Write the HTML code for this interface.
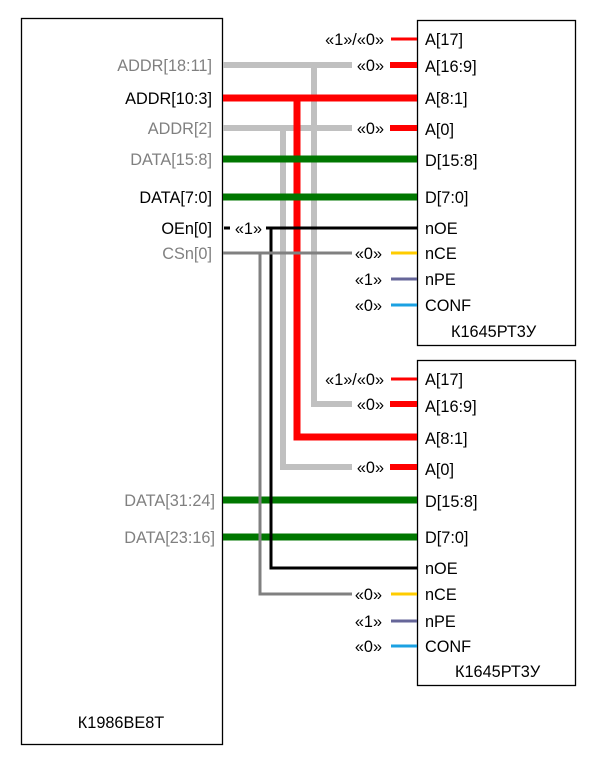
<!DOCTYPE html>
<html><head><meta charset="utf-8"><style>
body{margin:0;background:#fff}
svg{display:block;font-family:"Liberation Sans",Arial,sans-serif;font-size:16.3px}
</style></head><body>
<svg width="600" height="758" viewBox="0 0 600 758" xmlns="http://www.w3.org/2000/svg">
<rect x="21.5" y="18.5" width="201" height="726" fill="#fff" stroke="#000" stroke-width="1.3"/>
<rect x="417.5" y="20.5" width="158" height="325" fill="#fff" stroke="#000" stroke-width="1.3"/>
<rect x="417.5" y="360.5" width="158" height="325" fill="#fff" stroke="#000" stroke-width="1.3"/>

<g fill="none" stroke-linecap="butt">
<line x1="391" y1="39" x2="417" y2="39" stroke="#f00" stroke-width="3"/>
<line x1="223" y1="65" x2="352" y2="65" stroke="#c0c0c0" stroke-width="6"/>
<line x1="390" y1="65" x2="417" y2="65" stroke="#f00" stroke-width="6"/>
<line x1="390" y1="128" x2="417" y2="128" stroke="#f00" stroke-width="6"/>
<line x1="223" y1="128" x2="352" y2="128" stroke="#c0c0c0" stroke-width="6"/>
<polyline points="314,65 314,404 352,404" stroke="#c0c0c0" stroke-width="6"/>
<polyline points="283,128 283,467 352,467" stroke="#c0c0c0" stroke-width="6"/>
<line x1="223" y1="98" x2="417" y2="98" stroke="#f00" stroke-width="7"/>
<polyline points="297,98 297,437 417,437" stroke="#f00" stroke-width="7"/>
<line x1="223" y1="159" x2="417" y2="159" stroke="#007700" stroke-width="7"/>
<line x1="223" y1="197" x2="417" y2="197" stroke="#007700" stroke-width="7"/>
<line x1="223" y1="500" x2="417" y2="500" stroke="#007700" stroke-width="7"/>
<line x1="223" y1="537" x2="417" y2="537" stroke="#007700" stroke-width="7"/>
<line x1="224" y1="228" x2="230" y2="228" stroke="#000" stroke-width="3"/>
<line x1="266" y1="228" x2="417" y2="228" stroke="#000" stroke-width="3"/>
<polyline points="271,228 271,568 417,568" stroke="#000" stroke-width="3"/>
<line x1="223" y1="253" x2="352" y2="253" stroke="#808080" stroke-width="3"/>
<polyline points="260,253 260,594 352,594" stroke="#808080" stroke-width="3"/>
<line x1="391" y1="253" x2="417" y2="253" stroke="#ffcc00" stroke-width="3"/>
<line x1="391" y1="279" x2="417" y2="279" stroke="#666699" stroke-width="3"/>
<line x1="391" y1="305" x2="417" y2="305" stroke="#1ba1e2" stroke-width="3"/>
<line x1="391" y1="379" x2="417" y2="379" stroke="#f00" stroke-width="3"/>
<line x1="390" y1="404" x2="417" y2="404" stroke="#f00" stroke-width="6"/>
<line x1="390" y1="467" x2="417" y2="467" stroke="#f00" stroke-width="6"/>
<line x1="391" y1="594" x2="417" y2="594" stroke="#ffcc00" stroke-width="3"/>
<line x1="391" y1="621" x2="417" y2="621" stroke="#666699" stroke-width="3"/>
<line x1="391" y1="646" x2="417" y2="646" stroke="#1ba1e2" stroke-width="3"/>
</g>

<g text-anchor="end">
<text x="212" y="71" fill="#808080">ADDR[18:11]</text>
<text x="212" y="104" fill="#000">ADDR[10:3]</text>
<text x="212" y="134" fill="#808080">ADDR[2]</text>
<text x="212" y="165" fill="#808080">DATA[15:8]</text>
<text x="212" y="203" fill="#000">DATA[7:0]</text>
<text x="212" y="234" fill="#000">OEn[0]</text>
<text x="212" y="259" fill="#808080">CSn[0]</text>
<text x="215" y="506" fill="#808080">DATA[31:24]</text>
<text x="215" y="543" fill="#808080">DATA[23:16]</text>
</g>

<g text-anchor="end" fill="#000">
<text x="384" y="45">«1»/«0»</text>
<text x="384" y="71">«0»</text>
<text x="384" y="134">«0»</text>
<text x="382" y="259">«0»</text>
<text x="382" y="285">«1»</text>
<text x="382" y="311">«0»</text>
<text x="384" y="385">«1»/«0»</text>
<text x="384" y="410">«0»</text>
<text x="384" y="473">«0»</text>
<text x="382" y="600">«0»</text>
<text x="382" y="627">«1»</text>
<text x="382" y="652">«0»</text>
<text x="262" y="234">«1»</text>
</g>

<g fill="#000">
<text x="425" y="45">A[17]</text>
<text x="425" y="72">A[16:9]</text>
<text x="425" y="104">A[8:1]</text>
<text x="425" y="135">A[0]</text>
<text x="425" y="166">D[15:8]</text>
<text x="425" y="203">D[7:0]</text>
<text x="425" y="234">nOE</text>
<text x="425" y="259">nCE</text>
<text x="425" y="285">nPE</text>
<text x="425" y="311">CONF</text>
<text x="451" y="337">К1645РТ3У</text>
<text x="425" y="385">A[17]</text>
<text x="425" y="412">A[16:9]</text>
<text x="425" y="444">A[8:1]</text>
<text x="425" y="475">A[0]</text>
<text x="425" y="507">D[15:8]</text>
<text x="425" y="543">D[7:0]</text>
<text x="425" y="574">nOE</text>
<text x="425" y="600">nCE</text>
<text x="425" y="627">nPE</text>
<text x="425" y="652">CONF</text>
<text x="455" y="677">К1645РТ3У</text>
<text x="121" y="728" text-anchor="middle">К1986ВЕ8Т</text>
</g>
</svg>
</body></html>
